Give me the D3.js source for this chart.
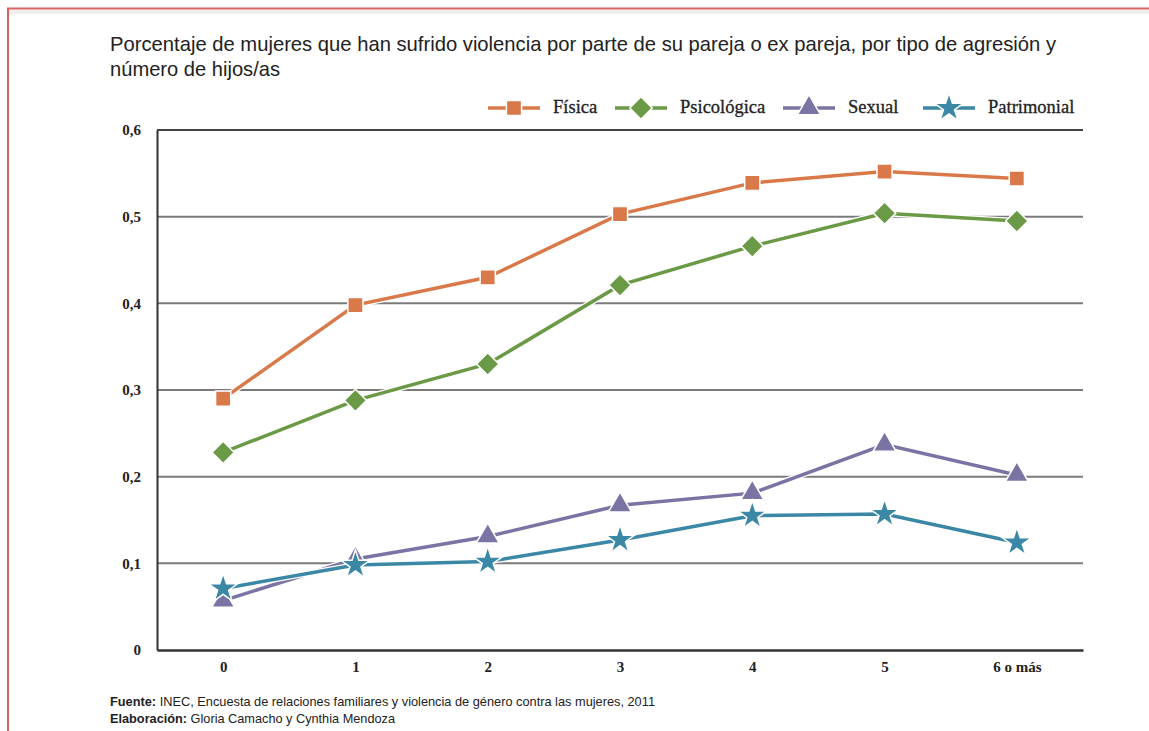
<!DOCTYPE html>
<html>
<head>
<meta charset="utf-8">
<script src="https://cdn.jsdelivr.net/npm/d3@7"></script>
<style>
  body { margin: 0; background: #fff; }
  svg { display: block; }
</style>
</head>
<body>
<div id="chart"></div>
<script>
// data
var categories = ["0", "1", "2", "3", "4", "5", "6 o más"];
var fisica      = [0.290, 0.398, 0.430, 0.503, 0.539, 0.552, 0.544];
var psicologica = [0.228, 0.288, 0.330, 0.421, 0.466, 0.504, 0.495];
var sexual      = [0.057, 0.105, 0.131, 0.167, 0.181, 0.237, 0.202];
var patrimonial = [0.071, 0.098, 0.102, 0.127, 0.155, 0.157, 0.124];
var yTicks = [0, 0.1, 0.2, 0.3, 0.4, 0.5, 0.6];

// square turned 45 degrees, not the tall d3 diamond
var squareDiamond = {
  draw: function(context, size) {
    var r = Math.sqrt(size / 2);
    context.moveTo(0, -r);
    context.lineTo(r, 0);
    context.lineTo(0, r);
    context.lineTo(-r, 0);
    context.closePath();
  }
};

var series = [
  { name: "Física", values: fisica, color: "#d9794a", shape: d3.symbolSquare, size: 230 },
  { name: "Psicológica", values: psicologica, color: "#6a9a46", shape: squareDiamond, size: 250 },
  { name: "Sexual", values: sexual, color: "#7a74a5", shape: d3.symbolTriangle, size: 230 },
  { name: "Patrimonial", values: patrimonial, color: "#3a87a6", shape: d3.symbolStar, size: 260 }
];

var svgWidth = 1149;
var svgHeight = 731;

var margin = { top: 130, right: 66, bottom: 81, left: 157 };
var width = svgWidth - margin.left - margin.right;
var height = svgHeight - margin.top - margin.bottom;

var svg = d3.select("#chart")
  .append("svg")
  .attr("width", svgWidth)
  .attr("height", svgHeight);

// red page frame
svg.append("rect")
  .attr("x", 8).attr("y", 10).attr("width", svgWidth).attr("height", 4)
  .attr("fill", "#eeeeee");
svg.append("line")
  .attr("x1", 7).attr("x2", svgWidth).attr("y1", 8.5).attr("y2", 8.5)
  .attr("stroke", "#d9625e").attr("stroke-width", 2);
svg.append("line")
  .attr("x1", 8).attr("x2", 8).attr("y1", 8).attr("y2", svgHeight)
  .attr("stroke", "#d9625e").attr("stroke-width", 2);

// title (narrow font squeezed to the reference width)
var titleFont = "'Liberation Sans Narrow', 'Arial Narrow', 'Liberation Sans', sans-serif";
svg.append("text")
  .attr("x", 110).attr("y", 51)
  .attr("font-family", titleFont)
  .attr("font-size", 21)
  .attr("fill", "#222")
  .attr("textLength", 946)
  .attr("lengthAdjust", "spacingAndGlyphs")
  .text("Porcentaje de mujeres que han sufrido violencia por parte de su pareja o ex pareja, por tipo de agresión y");
svg.append("text")
  .attr("x", 110).attr("y", 76)
  .attr("font-family", titleFont)
  .attr("font-size", 21)
  .attr("fill", "#222")
  .attr("textLength", 170)
  .attr("lengthAdjust", "spacingAndGlyphs")
  .text("número de hijos/as");

var chartGroup = svg.append("g")
  .attr("transform", `translate(${margin.left}, ${margin.top})`);

var xScale = d3.scalePoint()
  .domain(categories)
  .range([0, width])
  .padding(0.5);

var yScale = d3.scaleLinear()
  .domain([0, 0.6])
  .range([height, 0]);

// gridlines
chartGroup.append("g")
  .selectAll("line")
  .data(yTicks.filter(d => d > 0))
  .enter()
  .append("line")
  .attr("x1", 0)
  .attr("x2", width)
  .attr("y1", d => yScale(d))
  .attr("y2", d => yScale(d))
  .attr("stroke", d => d === 0.6 ? "#444" : "#7a7a7a")
  .attr("stroke-width", 2);

var tickFont = "'Liberation Serif', 'DejaVu Serif', serif";

// y axis
var leftAxis = d3.axisLeft(yScale)
  .tickValues(yTicks)
  .tickSize(0)
  .tickPadding(16)
  .tickFormat(d => d === 0 ? "0" : d3.format(".1f")(d).replace(".", ","));

var yAxis = chartGroup.append("g").call(leftAxis);
yAxis.select(".domain").attr("stroke", "#333").attr("stroke-width", 2);
yAxis.selectAll("text")
  .attr("font-family", tickFont)
  .attr("font-weight", "bold")
  .attr("font-size", 15)
  .attr("fill", "#222");

// x axis
var bottomAxis = d3.axisBottom(xScale).tickSize(0).tickPadding(11);
var xAxis = chartGroup.append("g")
  .attr("transform", `translate(0, ${height})`)
  .call(bottomAxis);
xAxis.select(".domain").attr("stroke", "#333").attr("stroke-width", 2.5);
xAxis.selectAll("text")
  .attr("font-family", tickFont)
  .attr("font-weight", "bold")
  .attr("font-size", 15)
  .attr("fill", "#222");

// lines
var line = d3.line()
  .x((d, i) => xScale(categories[i]))
  .y(d => yScale(d));

series.forEach(function(s) {
  chartGroup.append("path")
    .datum(s.values)
    .attr("fill", "none")
    .attr("stroke", "#fff")
    .attr("stroke-width", 6)
    .attr("d", line);
  chartGroup.append("path")
    .datum(s.values)
    .attr("fill", "none")
    .attr("stroke", s.color)
    .attr("stroke-width", 3.5)
    .attr("d", line);

  chartGroup.append("g")
    .selectAll("path")
    .data(s.values)
    .enter()
    .append("path")
    .attr("transform", (d, i) => `translate(${xScale(categories[i])}, ${yScale(d)})`)
    .attr("d", d3.symbol().type(s.shape).size(s.size))
    .attr("fill", s.color)
    .attr("stroke", "#fff")
    .attr("stroke-width", 1.5);
});

// legend
var legendX = [488, 615, 783, 923];
var legend = svg.append("g");
series.forEach(function(s, i) {
  var g = legend.append("g").attr("transform", `translate(${legendX[i]}, 108)`);
  g.append("line")
    .attr("x1", 0).attr("x2", 52)
    .attr("stroke", s.color).attr("stroke-width", 3.5);
  g.append("path")
    .attr("transform", "translate(26, 0)")
    .attr("d", d3.symbol().type(s.shape).size(s.size))
    .attr("fill", s.color)
    .attr("stroke", "#fff")
    .attr("stroke-width", 1.5);
  g.append("text")
    .attr("x", 65)
    .attr("y", 5)
    .attr("font-family", "'Liberation Serif', serif")
    .attr("font-size", 18.5)
    .attr("fill", "#222")
    .attr("stroke", "#222")
    .attr("stroke-width", 0.3)
    .text(s.name);
});

// footer
var foot = svg.append("g")
  .attr("font-family", titleFont)
  .attr("font-size", 13)
  .attr("fill", "#222");
var f1 = foot.append("text").attr("x", 110).attr("y", 706)
  .attr("textLength", 545).attr("lengthAdjust", "spacingAndGlyphs");
f1.append("tspan").attr("font-weight", "bold").text("Fuente:");
f1.append("tspan").text(" INEC, Encuesta de relaciones familiares y violencia de género contra las mujeres, 2011");
var f2 = foot.append("text").attr("x", 110).attr("y", 723)
  .attr("textLength", 285).attr("lengthAdjust", "spacingAndGlyphs");
f2.append("tspan").attr("font-weight", "bold").text("Elaboración:");
f2.append("tspan").text(" Gloria Camacho y Cynthia Mendoza");
</script>
</body>
</html>
